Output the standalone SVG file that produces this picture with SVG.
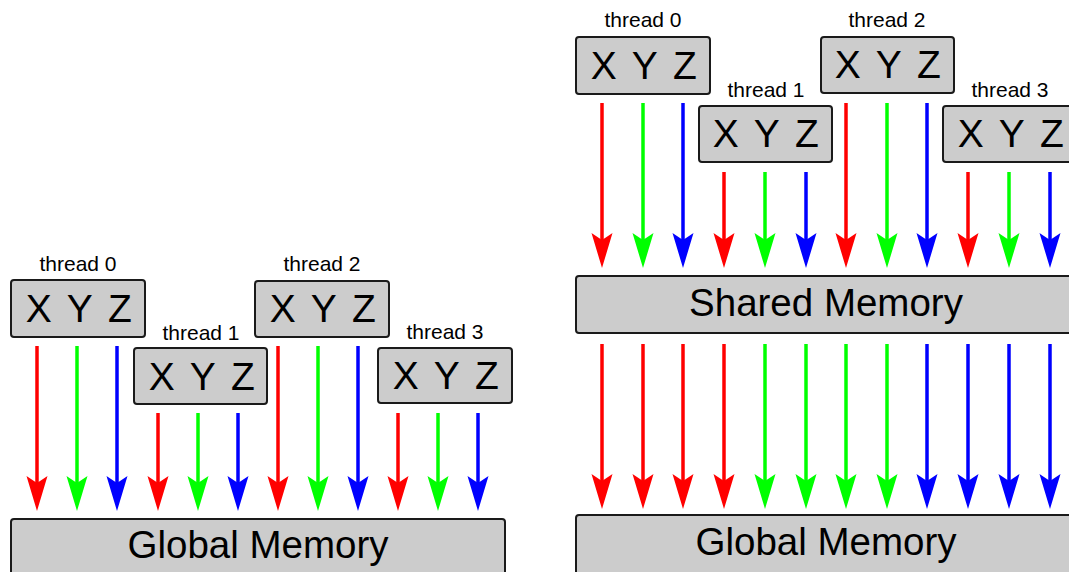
<svg xmlns="http://www.w3.org/2000/svg" width="1069" height="572" viewBox="0 0 1069 572">
<style>
.box{fill:#cccccc;stroke:#1a1a1a;stroke-width:2}
.lbl{font-family:"Liberation Sans",Arial,sans-serif;font-size:21px;fill:#000;text-anchor:middle}
.xyz{font-family:"Liberation Sans",Arial,sans-serif;font-size:39px;fill:#000;text-anchor:middle;letter-spacing:2.5px}
.mem{font-family:"Liberation Sans",Arial,sans-serif;font-size:38.5px;fill:#000;text-anchor:middle}
.r{stroke:#ff0000;stroke-width:3.5;fill:none;marker-end:url(#mr)}
.g{stroke:#00ff00;stroke-width:3.5;fill:none;marker-end:url(#mg)}
.b{stroke:#0000ff;stroke-width:3.5;fill:none;marker-end:url(#mb)}
</style>
<defs>
<marker id="mr" markerUnits="userSpaceOnUse" viewBox="0 -12 36 24" refX="7" refY="0" markerWidth="36" markerHeight="24" orient="auto"><path d="M0,-10.5 L35,0 L0,10.5 L7,0 Z" fill="#ff0000"/></marker>
<marker id="mg" markerUnits="userSpaceOnUse" viewBox="0 -12 36 24" refX="7" refY="0" markerWidth="36" markerHeight="24" orient="auto"><path d="M0,-10.5 L35,0 L0,10.5 L7,0 Z" fill="#00ff00"/></marker>
<marker id="mb" markerUnits="userSpaceOnUse" viewBox="0 -12 36 24" refX="7" refY="0" markerWidth="36" markerHeight="24" orient="auto"><path d="M0,-10.5 L35,0 L0,10.5 L7,0 Z" fill="#0000ff"/></marker>
</defs>
<rect width="1069" height="572" fill="#ffffff"/>

<g id="connectors">
<!-- left panel -->
<line class="r" x1="37" y1="346" x2="37" y2="483"/>
<line class="g" x1="77" y1="346" x2="77" y2="483"/>
<line class="b" x1="117" y1="346" x2="117" y2="483"/>
<line class="r" x1="158" y1="413" x2="158" y2="483"/>
<line class="g" x1="198" y1="413" x2="198" y2="483"/>
<line class="b" x1="238" y1="413" x2="238" y2="483"/>
<line class="r" x1="278" y1="346" x2="278" y2="483"/>
<line class="g" x1="318" y1="346" x2="318" y2="483"/>
<line class="b" x1="358" y1="346" x2="358" y2="483"/>
<line class="r" x1="398" y1="413" x2="398" y2="483"/>
<line class="g" x1="438" y1="413" x2="438" y2="483"/>
<line class="b" x1="478" y1="413" x2="478" y2="483"/>
<!-- right panel upper -->
<line class="r" x1="602" y1="103" x2="602" y2="240"/>
<line class="g" x1="643" y1="103" x2="643" y2="240"/>
<line class="b" x1="683" y1="103" x2="683" y2="240"/>
<line class="r" x1="724" y1="172" x2="724" y2="240"/>
<line class="g" x1="765" y1="172" x2="765" y2="240"/>
<line class="b" x1="806" y1="172" x2="806" y2="240"/>
<line class="r" x1="846" y1="103" x2="846" y2="240"/>
<line class="g" x1="887" y1="103" x2="887" y2="240"/>
<line class="b" x1="927" y1="103" x2="927" y2="240"/>
<line class="r" x1="968" y1="172" x2="968" y2="240"/>
<line class="g" x1="1009" y1="172" x2="1009" y2="240"/>
<line class="b" x1="1050" y1="172" x2="1050" y2="240"/>
<!-- right panel lower -->
<line class="r" x1="602" y1="344" x2="602" y2="481"/>
<line class="r" x1="643" y1="344" x2="643" y2="481"/>
<line class="r" x1="683" y1="344" x2="683" y2="481"/>
<line class="r" x1="724" y1="344" x2="724" y2="481"/>
<line class="g" x1="765" y1="344" x2="765" y2="481"/>
<line class="g" x1="806" y1="344" x2="806" y2="481"/>
<line class="g" x1="846" y1="344" x2="846" y2="481"/>
<line class="g" x1="887" y1="344" x2="887" y2="481"/>
<line class="b" x1="927" y1="344" x2="927" y2="481"/>
<line class="b" x1="968" y1="344" x2="968" y2="481"/>
<line class="b" x1="1009" y1="344" x2="1009" y2="481"/>
<line class="b" x1="1050" y1="344" x2="1050" y2="481"/>
</g>

<!-- left panel nodes -->
<g id="L-thread0">
<text class="lbl" x="78" y="271">thread 0</text>
<rect class="box" x="11" y="280" width="134" height="57" rx="3"/>
<text class="xyz" x="80" y="322">X Y Z</text>
</g>
<g id="L-thread1">
<text class="lbl" x="201" y="340">thread 1</text>
<rect class="box" x="134" y="348" width="133" height="56" rx="3"/>
<text class="xyz" x="203" y="390">X Y Z</text>
</g>
<g id="L-thread2">
<text class="lbl" x="322" y="271">thread 2</text>
<rect class="box" x="255" y="281" width="134" height="56" rx="3"/>
<text class="xyz" x="324" y="322">X Y Z</text>
</g>
<g id="L-thread3">
<text class="lbl" x="445" y="339">thread 3</text>
<rect class="box" x="378" y="348" width="134" height="55" rx="3"/>
<text class="xyz" x="447" y="389">X Y Z</text>
</g>
<g id="L-global">
<rect class="box" x="11" y="519" width="494" height="70" rx="3"/>
<text class="mem" x="258" y="558">Global Memory</text>
</g>

<!-- right panel nodes -->
<g id="R-thread0">
<text class="lbl" x="643" y="27">thread 0</text>
<rect class="box" x="576" y="37" width="134" height="57" rx="3"/>
<text class="xyz" x="645" y="79">X Y Z</text>
</g>
<g id="R-thread1">
<text class="lbl" x="766" y="97">thread 1</text>
<rect class="box" x="699" y="106" width="133" height="56" rx="3"/>
<text class="xyz" x="767" y="147">X Y Z</text>
</g>
<g id="R-thread2">
<text class="lbl" x="887" y="27">thread 2</text>
<rect class="box" x="821" y="37" width="133" height="56" rx="3"/>
<text class="xyz" x="889" y="78">X Y Z</text>
</g>
<g id="R-thread3">
<text class="lbl" x="1010" y="97">thread 3</text>
<rect class="box" x="943" y="106" width="134" height="56" rx="3"/>
<text class="xyz" x="1012" y="147">X Y Z</text>
</g>
<g id="R-shared">
<rect class="box" x="576" y="276" width="520" height="57" rx="3"/>
<text class="mem" x="826" y="316">Shared Memory</text>
</g>
<g id="R-global">
<rect class="box" x="576" y="515" width="520" height="70" rx="3"/>
<text class="mem" x="826" y="555">Global Memory</text>
</g>
</svg>
